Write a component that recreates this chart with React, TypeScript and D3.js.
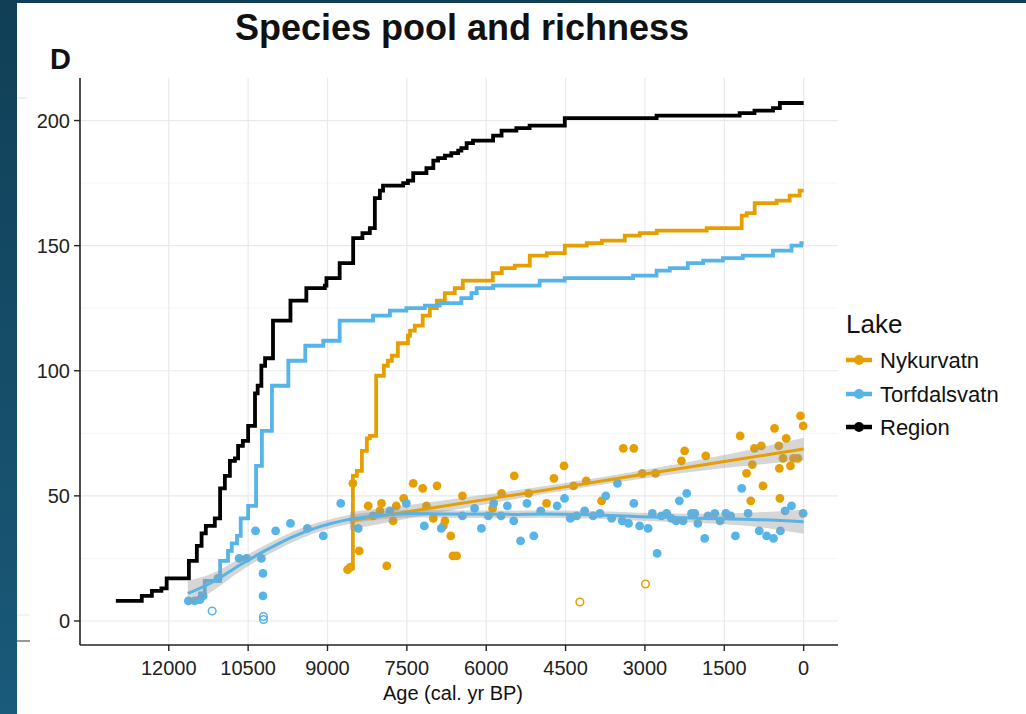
import React from 'react';
import * as d3 from 'd3';

type P = [number, number];
type R = [number, number, number, number]; // age, fit, lower, upper

const TITLE = 'Species pool and richness';
const PANEL_TAG = 'D';
const X_LABEL = 'Age (cal. yr BP)';
const LEGEND_TITLE = 'Lake';
const SERIES = ['Nykurvatn', 'Torfdalsvatn', 'Region'];
const COLORS = ['#E69F00', '#56B4E9', '#000000'];
const X_TICKS = [12000, 10500, 9000, 7500, 6000, 4500, 3000, 1500, 0];
const Y_TICKS = [0, 50, 100, 150, 200];
const Y_MINOR = [25, 75, 125, 175];

// cumulative species pool (step lines): [age, count]
const regionPool: P[] = [
  [13000, 8], [12510, 10], [12320, 12], [12140, 13], [12040, 17], [11620, 24], [11470, 30],
  [11380, 35], [11300, 38], [11130, 41], [11030, 53], [10940, 58], [10845, 64], [10750, 65],
  [10690, 70], [10600, 72], [10500, 78], [10370, 91], [10320, 94], [10250, 102], [10180, 105],
  [10030, 120], [9700, 128], [9400, 133], [9050, 134], [9020, 137], [8770, 143], [8515, 153],
  [8340, 155], [8200, 157], [8105, 169], [8010, 172], [7950, 174], [7570, 175], [7480, 176],
  [7380, 179], [7130, 181], [7000, 184], [6910, 185], [6780, 186], [6660, 187], [6530, 188],
  [6470, 189], [6370, 191], [6250, 192], [5870, 194], [5710, 196], [5430, 197], [5180, 198],
  [4515, 201], [2780, 202], [1210, 203], [930, 204], [580, 205], [450, 207], [0, 207],
];
const torfPool: P[] = [
  [11640, 8], [11410, 11], [11320, 16], [11030, 24], [10880, 28], [10810, 31], [10710, 34],
  [10640, 41], [10500, 46], [10350, 62], [10240, 76], [10050, 94], [9740, 104], [9420, 110],
  [9080, 112], [8770, 120], [8140, 122], [7820, 124], [7510, 125], [7160, 126], [6880, 127],
  [6470, 129], [6280, 131], [6180, 133], [5870, 134], [4990, 136], [4515, 137], [3225, 138],
  [2780, 140], [2530, 141], [2190, 143], [1900, 144], [1525, 145], [1150, 146], [580, 148],
  [230, 150], [45, 151], [0, 151],
];
const nykPool: P[] = [
  [8600, 21], [8520, 58], [8445, 60], [8350, 68], [8256, 73], [8200, 74], [8080, 98],
  [7935, 102], [7860, 104], [7784, 106], [7670, 111], [7480, 114], [7440, 116], [7350, 118],
  [7200, 122], [7066, 125], [6934, 128], [6783, 131], [6594, 133], [6442, 136], [5876, 139],
  [5706, 141], [5460, 142], [5177, 146], [4855, 147], [4515, 150], [4100, 151], [3816, 152],
  [3382, 154], [3098, 155], [2777, 156], [1833, 157], [1171, 162], [1077, 163], [926, 167],
  [510, 168], [264, 170], [76, 172], [0, 172],
];

// sample richness points: [age, count]
const nykPoints: P[] = [
  [8620, 20.5], [8570, 21.5], [8400, 28], [8520, 55], [8230, 46], [8010, 44], [7980, 47],
  [7880, 22], [7760, 40], [7700, 46], [7560, 49], [7380, 55], [7200, 53], [6930, 54],
  [7130, 46], [7000, 41], [6780, 40], [6810, 38], [6670, 34], [6630, 26], [6560, 26],
  [6450, 50], [5880, 45], [5710, 51], [5470, 58], [5200, 51], [4860, 47], [4720, 57],
  [4530, 62], [4350, 54], [4110, 56], [3820, 48], [3410, 69], [3210, 69], [3050, 59],
  [2800, 59], [2310, 64], [2250, 68], [1850, 66], [1200, 74], [1080, 59], [1000, 48],
  [970, 62.5], [930, 69], [800, 70], [770, 54], [550, 77], [470, 70], [460, 61], [450, 49],
  [330, 73], [390, 65], [250, 62], [190, 65], [110, 65], [60, 82], [10, 78],
];
const torfPoints: P[] = [
  [11630, 8], [11510, 8], [11410, 8.5], [11350, 10], [11070, 17], [10670, 25], [10530, 25],
  [10360, 36], [10250, 25], [10220, 19], [10220, 10], [9980, 36], [9700, 39], [9380, 37],
  [9080, 34], [8750, 47], [8420, 37], [8140, 42], [7820, 44], [7510, 47], [7170, 38],
  [6850, 37], [6450, 42], [6220, 45], [6090, 37], [5960, 42], [5860, 47], [5720, 42],
  [5600, 46], [5480, 40], [5350, 32], [5230, 47], [5100, 34], [4970, 44], [4660, 46],
  [4520, 49], [4410, 41], [4290, 42], [4140, 44], [3980, 42], [3850, 43], [3740, 50],
  [3630, 41], [3520, 55], [3430, 40], [3310, 39], [3210, 47], [3100, 38], [2940, 37],
  [2860, 43], [2770, 27], [2690, 42], [2590, 43], [2500, 41], [2410, 40], [2350, 48],
  [2280, 40], [2210, 51], [2120, 43], [2060, 43], [2000, 39], [1870, 33], [1810, 42],
  [1680, 43], [1580, 40], [1470, 43], [1380, 42], [1290, 34], [1170, 53], [1050, 43],
  [840, 36], [700, 34], [570, 33], [440, 36], [350, 44], [230, 46], [10, 43],
];
const nykOpen: P[] = [[4230, 7.6], [2990, 14.8]];
const torfOpen: P[] = [[11180, 4], [10210, 1.8], [10210, 0.6]];

// fitted trends with confidence band: [age, fit, lower, upper]
const nykFit: R[] = [
  [8580, 40, 36.5, 43.5], [7500, 43.6, 40.9, 46.3], [6000, 48.6, 46.7, 50.5],
  [4300, 54.3, 52.8, 55.8], [3000, 58.7, 57.0, 60.4], [1500, 63.7, 61.1, 66.3],
  [0, 68.7, 64.2, 73.2],
];
const torfFit: R[] = [
  [11640, 11, 6.0, 16.0], [11160, 15.7, 12.2, 19.2], [10656, 22.4, 19.8, 25.0],
  [10151, 28.4, 26.2, 30.6], [9649, 33.7, 31.6, 35.8], [9144, 37.7, 35.8, 39.6],
  [8640, 40.4, 38.6, 42.2], [8011, 42.2, 40.6, 43.8], [7381, 43, 41.5, 44.5],
  [6877, 42.8, 41.3, 44.3], [5500, 42.6, 41.1, 44.1], [4988, 42.8, 41.3, 44.3],
  [4000, 42.5, 41.0, 44.0], [3098, 41.7, 40.1, 43.3], [1838, 41, 39.1, 42.9],
  [1000, 40.6, 37.9, 43.3], [0, 39.7, 34.9, 44.5],
];

const W = 1026;
const H = 714;
const PL = 80, PR = 838, PT = 78, PB = 645;
const FONT = "'Liberation Sans', Arial, Helvetica, sans-serif";

export default function App() {
  const x = d3.scaleLinear().domain([13678, -649]).range([PL, PR]);
  const y = d3.scaleLinear().domain([-9.6, 217]).range([PB, PT]);

  const step = d3.line<P>().x(d => x(d[0])).y(d => y(d[1])).curve(d3.curveStepAfter);
  const fitLine = d3.line<R>().x(d => x(d[0])).y(d => y(d[1])).curve(d3.curveMonotoneX);
  const band = d3.area<R>().x(d => x(d[0])).y0(d => y(d[2])).y1(d => y(d[3])).curve(d3.curveMonotoneX);

  const pools = [nykPool, torfPool, regionPool];
  const pts = [nykPoints, torfPoints];
  const opens = [nykOpen, torfOpen];
  const fits = [nykFit, torfFit];

  const legendY = [360, 394, 427];

  return (
    <svg width={W} height={H} style={{ position: 'absolute', left: 0, top: 0, display: 'block' }} fontFamily={FONT}>
      <defs>
        <linearGradient id="edge" x1="0" y1="0" x2="0" y2="1">
          <stop offset="0" stopColor="#103f56" />
          <stop offset="1" stopColor="#1a5a7a" />
        </linearGradient>
      </defs>
      <rect x={0} y={0} width={W} height={H} fill="url(#edge)" />
      <rect x={17} y={3} width={W - 17} height={H - 3} fill="#ffffff" />
      {/* fragments of neighbouring panel */}
      <line x1={17} x2={27} y1={98} y2={98} stroke="#dddddd" strokeWidth={1} />
      <line x1={17} x2={30} y1={615} y2={615} stroke="#e6e6e6" strokeWidth={1} />
      <line x1={17} x2={30} y1={641} y2={641} stroke="#555" strokeWidth={1.2} />

      {/* grid */}
      {Y_MINOR.map(v => (
        <line key={'ym' + v} x1={PL} x2={PR} y1={y(v)} y2={y(v)} stroke="#f1f2f4" strokeWidth={0.8} />
      ))}
      {Y_TICKS.map(v => (
        <line key={'yg' + v} x1={PL} x2={PR} y1={y(v)} y2={y(v)} stroke="#e8eaed" strokeWidth={1.2} />
      ))}
      {X_TICKS.map(v => (
        <line key={'xg' + v} x1={x(v)} x2={x(v)} y1={PT} y2={PB} stroke="#e8eaed" strokeWidth={1.2} />
      ))}

      {/* species pool step lines */}
      {pools.map((d, i) => (
        <path key={'pool' + i} d={step(d) || ''} fill="none" stroke={COLORS[i]} strokeWidth={3.8} />
      ))}

      {/* richness points */}
      {pts.map((d, i) => (
        <g key={'pts' + i} fill={COLORS[i]}>
          {d.map((p, j) => <circle key={j} cx={x(p[0])} cy={y(p[1])} r={4.4} />)}
        </g>
      ))}
      {opens.map((d, i) => (
        <g key={'open' + i} fill="none" stroke={COLORS[i]} strokeWidth={1.5}>
          {d.map((p, j) => <circle key={j} cx={x(p[0])} cy={y(p[1])} r={3.8} />)}
        </g>
      ))}

      {/* fitted trends */}
      {fits.map((d, i) => (
        <path key={'band' + i} d={band(d) || ''} fill="#999999" fillOpacity={0.4} />
      ))}
      {fits.map((d, i) => (
        <path key={'fit' + i} d={fitLine(d) || ''} fill="none" stroke={COLORS[i]} strokeWidth={3} />
      ))}

      {/* axes */}
      <line x1={PL} x2={PL} y1={PT} y2={PB} stroke="#222" strokeWidth={1.6} />
      <line x1={PL} x2={PR} y1={PB} y2={PB} stroke="#222" strokeWidth={1.6} />
      {Y_TICKS.map(v => (
        <g key={'yt' + v}>
          <line x1={PL - 6} x2={PL} y1={y(v)} y2={y(v)} stroke="#222" strokeWidth={1.4} />
          <text x={PL - 10} y={y(v) + 7} textAnchor="end" fontSize={20} fill="#222">{v}</text>
        </g>
      ))}
      {X_TICKS.map(v => (
        <g key={'xt' + v}>
          <line x1={x(v)} x2={x(v)} y1={PB} y2={PB + 6} stroke="#222" strokeWidth={1.4} />
          <text x={x(v)} y={PB + 30} textAnchor="middle" fontSize={20} fill="#222">{v}</text>
        </g>
      ))}
      <text x={(PL + PR) / 2 - 6} y={700} textAnchor="middle" fontSize={20} fill="#111">{X_LABEL}</text>

      {/* titles */}
      <text x={462} y={40} textAnchor="middle" fontSize={36} fontWeight="bold" fill="#111">{TITLE}</text>
      <text x={50} y={69} fontSize={29} fontWeight="bold" fill="#111">{PANEL_TAG}</text>

      {/* legend */}
      <text x={846} y={333} fontSize={26} fill="#111">{LEGEND_TITLE}</text>
      {SERIES.map((s, i) => (
        <g key={'lg' + s}>
          <line x1={846} x2={872} y1={legendY[i]} y2={legendY[i]} stroke={COLORS[i]} strokeWidth={4.5} />
          <circle cx={859} cy={legendY[i]} r={5} fill={COLORS[i]} />
          <text x={880} y={legendY[i] + 8} fontSize={22} fill="#111">{s}</text>
        </g>
      ))}
    </svg>
  );
}
